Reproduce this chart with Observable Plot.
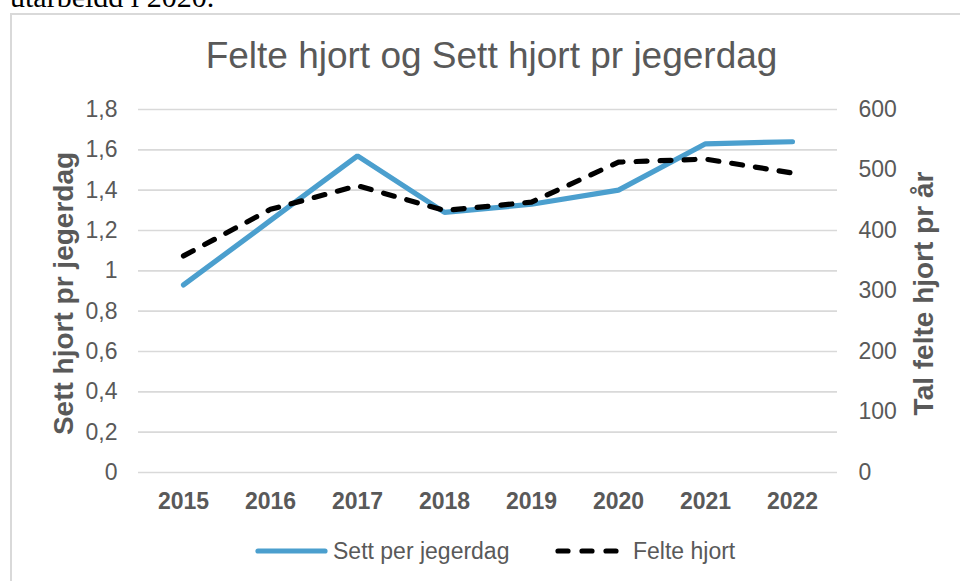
<!DOCTYPE html>
<html>
<head>
<meta charset="utf-8">
<script src="https://cdn.jsdelivr.net/npm/d3@7"></script>
<script src="https://cdn.jsdelivr.net/npm/@observablehq/plot@0.6"></script>
<style>
  html, body { margin: 0; padding: 0; background: #fff; }
  #wrap { position: relative; width: 960px; height: 581px; overflow: hidden; background: #fff; }
  #frame { position: absolute; left: 10px; top: 13px; width: 980px; height: 600px;
           border-top: 2px solid #d9d9d9; border-left: 2px solid #d9d9d9; box-sizing: border-box; }
  #chart { position: absolute; left: 0; top: 0; }
  #overlay { position: absolute; left: 0; top: 0; pointer-events: none; }
</style>
</head>
<body>
<div id="wrap">
  <div id="frame"></div>
  <div id="chart"></div>
  <svg id="overlay" width="960" height="581"></svg>
</div>
<script>
// ---- data ----
const years = ["2015", "2016", "2017", "2018", "2019", "2020", "2021", "2022"];
const settPerJegerdag = [0.93, 1.25, 1.57, 1.29, 1.33, 1.40, 1.63, 1.64];
const felteHjort = [358, 435, 474, 433, 447, 513, 518, 495];
const leftTicks = [0, 0.2, 0.4, 0.6, 0.8, 1, 1.2, 1.4, 1.6, 1.8];
const rightTicks = [0, 100, 200, 300, 400, 500, 600];
const title = "Felte hjort og Sett hjort pr jegerdag";
const leftLabel = "Sett hjort pr jegerdag";
const rightLabel = "Tal felte hjort pr år";
const seriesNames = ["Sett per jegerdag", "Felte hjort"];

// ---- derived tables ----
const leftMax = 1.8, rightMax = 600;
const toLeft = v => v * leftMax / rightMax;
const settData = years.map((y, i) => ({year: y, v: settPerJegerdag[i]}));
const felteData = years.map((y, i) => ({year: y, v: toLeft(felteHjort[i])}));

const grey = "#595959";
const blue = "#4b9fce";
const font = "'Liberation Sans', Arial, sans-serif";
const fmtL = d => String(+d.toFixed(1)).replace(".", ",");

const chart = Plot.plot({
  width: 960,
  height: 581,
  marginLeft: 138,
  marginRight: 123,
  marginTop: 109,
  marginBottom: 109,
  style: {fontFamily: font, color: grey, background: "transparent", overflow: "visible"},
  x: {type: "point", domain: years, padding: 0.5},
  y: {domain: [0, leftMax]},
  marks: [
    Plot.gridY(leftTicks, {stroke: "#d9d9d9", strokeOpacity: 1, strokeWidth: 1.6}),
    Plot.axisY(leftTicks, {anchor: "left", tickSize: 0, tickPadding: 21, tickFormat: fmtL,
      fontSize: 23, fill: grey, label: null}),
    Plot.axisY(rightTicks.map(toLeft), {anchor: "right", tickSize: 0, tickPadding: 21,
      tickFormat: d => String(Math.round(d * rightMax / leftMax)), textAnchor: "start",
      fontSize: 23, fill: grey, label: null}),
    Plot.axisX({tickSize: 0, tickPadding: 20, fontSize: 23, fontWeight: "bold", fill: grey, label: null}),
    Plot.line(settData, {x: "year", y: "v", stroke: blue, strokeWidth: 5.2,
      strokeLinejoin: "miter", strokeLinecap: "round"}),
    Plot.line(felteData, {x: "year", y: "v", stroke: "#000", strokeWidth: 5.2,
      strokeDasharray: "11,13", strokeLinecap: "round", strokeLinejoin: "round"}),
    Plot.text([title], {frameAnchor: "top", dx: 3.5, dy: -42, lineAnchor: "bottom",
      fontSize: 37, fill: grey, text: d => d}),
    Plot.text([leftLabel], {frameAnchor: "left", dx: -66, dy: 2.5, rotate: -90,
      lineAnchor: "bottom", textAnchor: "middle", fontSize: 28, fontWeight: "bold", fill: grey, text: d => d}),
    Plot.text([rightLabel], {frameAnchor: "right", dx: 95, dy: 2.5, rotate: -90,
      lineAnchor: "bottom", textAnchor: "middle", fontSize: 28, fontWeight: "bold", fill: grey, text: d => d})
  ]
});
document.getElementById("chart").appendChild(chart);

// ---- legend and clipped heading text ----
const ov = d3.select("#overlay");
ov.append("text").attr("x", 10).attr("y", 7)
  .attr("font-family", "'Liberation Serif', 'Times New Roman', serif")
  .attr("font-size", 30).attr("fill", "#000").text("utarbeidd i 2020.");

const ly = 551;
ov.append("line").attr("x1", 258).attr("x2", 325).attr("y1", ly).attr("y2", ly)
  .attr("stroke", blue).attr("stroke-width", 5.2).attr("stroke-linecap", "round");
ov.append("text").attr("x", 333).attr("y", ly).attr("dy", "0.35em")
  .attr("font-family", font).attr("font-size", 23).attr("fill", grey).text(seriesNames[0]);
ov.append("line").attr("x1", 558).attr("x2", 620).attr("y1", ly).attr("y2", ly)
  .attr("stroke", "#000").attr("stroke-width", 5.2).attr("stroke-linecap", "round")
  .attr("stroke-dasharray", "10,14");
ov.append("text").attr("x", 633).attr("y", ly).attr("dy", "0.35em")
  .attr("font-family", font).attr("font-size", 23).attr("fill", grey).text(seriesNames[1]);
</script>
</body>
</html>
